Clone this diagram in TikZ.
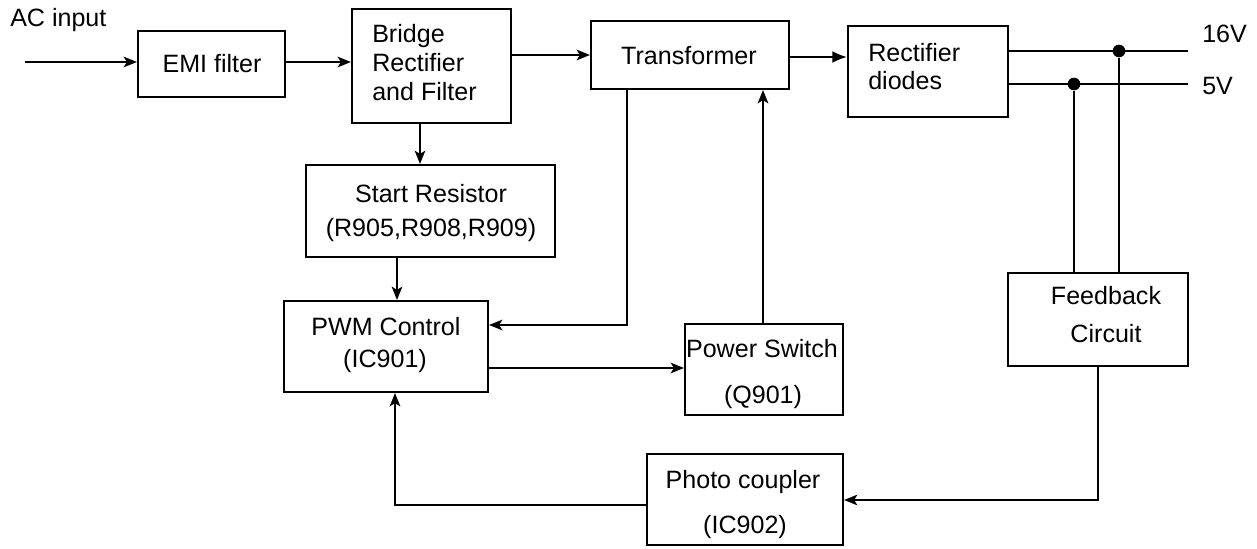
\documentclass[tikz,border=0pt]{standalone}
\usepackage{fontspec}
\setmainfont{Liberation Sans}
\usetikzlibrary{arrows.meta,fit}
\begin{document}
\begin{tikzpicture}[x=0.75pt,y=-0.75pt,
  box/.style={draw, line width=1.6pt, inner sep=0pt},
  conn/.style={line width=1.3pt},
  arr/.style={conn, -{Stealth[length=10pt,width=8pt,inset=2.5pt]}},
  arrl/.style={conn, -{Latex[length=11pt,width=9pt]}},
  lbl/.style={font=\fontsize{18.8}{21}\selectfont, inner sep=0pt, anchor=base},
  lbll/.style={lbl, anchor=base west},
  jdot/.style={circle, fill, inner sep=0pt, minimum size=9.5pt}]
\useasboundingbox (0,0) rectangle (1257,549);

% boxes
\node[box, fit={(138,31) (285,97)}] (emi) {};
\node[box, fit={(352,9) (511,123)}] (bridge) {};
\node[box, fit={(591,21) (789,89)}] (trans) {};
\node[box, fit={(848,26) (1008,117)}] (rect) {};
\node[box, fit={(306,165) (555,257)}] (sr) {};
\node[box, fit={(284,301) (488,392)}] (pwm) {};
\node[box, fit={(685,324) (843,415)}] (psw) {};
\node[box, fit={(1008,273) (1188,366)}] (fb) {};
\node[box, fit={(647,454) (843,545)}] (pc) {};

% texts
\node[lbll] (tac) at (10,27) {AC input};
\node[lbl] (temi) at (212,73) {EMI filter};
\node[lbll] (tb1) at (372,43) {Bridge};
\node[lbll] (tb2) at (372,72) {Rectifier};
\node[lbll] (tb3) at (372,101) {and Filter};
\node[lbl] (ttr) at (689,65) {Transformer};
\node[lbll] (tr1) at (868,62) {Rectifier};
\node[lbll] (tr2) at (868,90) {diodes};
\node[lbll] (t16) at (1202,43) {16V};
\node[lbll] (t5) at (1202,95) {5V};
\node[lbl] (ts1) at (431,203) {Start Resistor};
\node[lbl] (ts2) at (431,237) {(R905,R908,R909)};
\node[lbl] (tp1) at (386,335) {PWM Control};
\node[lbl] (tp2) at (385,367) {(IC901)};
\node[lbl] (tw1) at (762,357) {Power Switch};
\node[lbl] (tw2) at (763,403) {(Q901)};
\node[lbl] (tf1) at (1106,304) {Feedback};
\node[lbl] (tf2) at (1106,342) {Circuit};
\node[lbl] (tc1) at (743,488) {Photo coupler};
\node[lbl] (tc2) at (745,533) {(IC902)};

% junctions and free ends
\coordinate (acin) at (25,62);
\coordinate (o16) at (1188,51);
\coordinate (o5) at (1188,84);
\node[jdot] (j16) at (1119,51) {};
\node[jdot] (j5) at (1074,84) {};

% connectors
\draw[arr] (acin) -- (acin -| emi.west);
\draw[arr] (emi.east |- 0,62) -- (bridge.west |- 0,62);
\draw[arr] (bridge.east |- trans.west) -- (trans.west);
\draw[arrl] (trans.east |- 0,57) -- (rect.west |- 0,57);
\draw[arr] (bridge.south -| 420,0) -- (sr.north -| 420,0);
\draw[arr] (sr.south -| 397,0) -- (pwm.north -| 397,0);
\draw[arr] (trans.south -| 627,0) -- (627,325) -- (pwm.east |- 0,325);
\draw[arr] (pwm.east |- 0,368) -- (psw.west |- 0,368);
\draw[arr] (psw.north -| 763,0) -- (trans.south -| 763,0);
\draw[conn] (rect.east |- o16) -- (o16);
\draw[conn] (rect.east |- o5) -- (o5);
\draw[conn] (j16) -- (fb.north -| j16);
\draw[conn] (j5) -- (fb.north -| j5);
\draw[arr] (fb.south -| 1098,0) -- (1098,500) -- (pc.east |- 0,500);
\draw[arr] (pc.west |- 0,505) -- (395,505) -- (pwm.south -| 395,0);
\end{tikzpicture}
\end{document}
